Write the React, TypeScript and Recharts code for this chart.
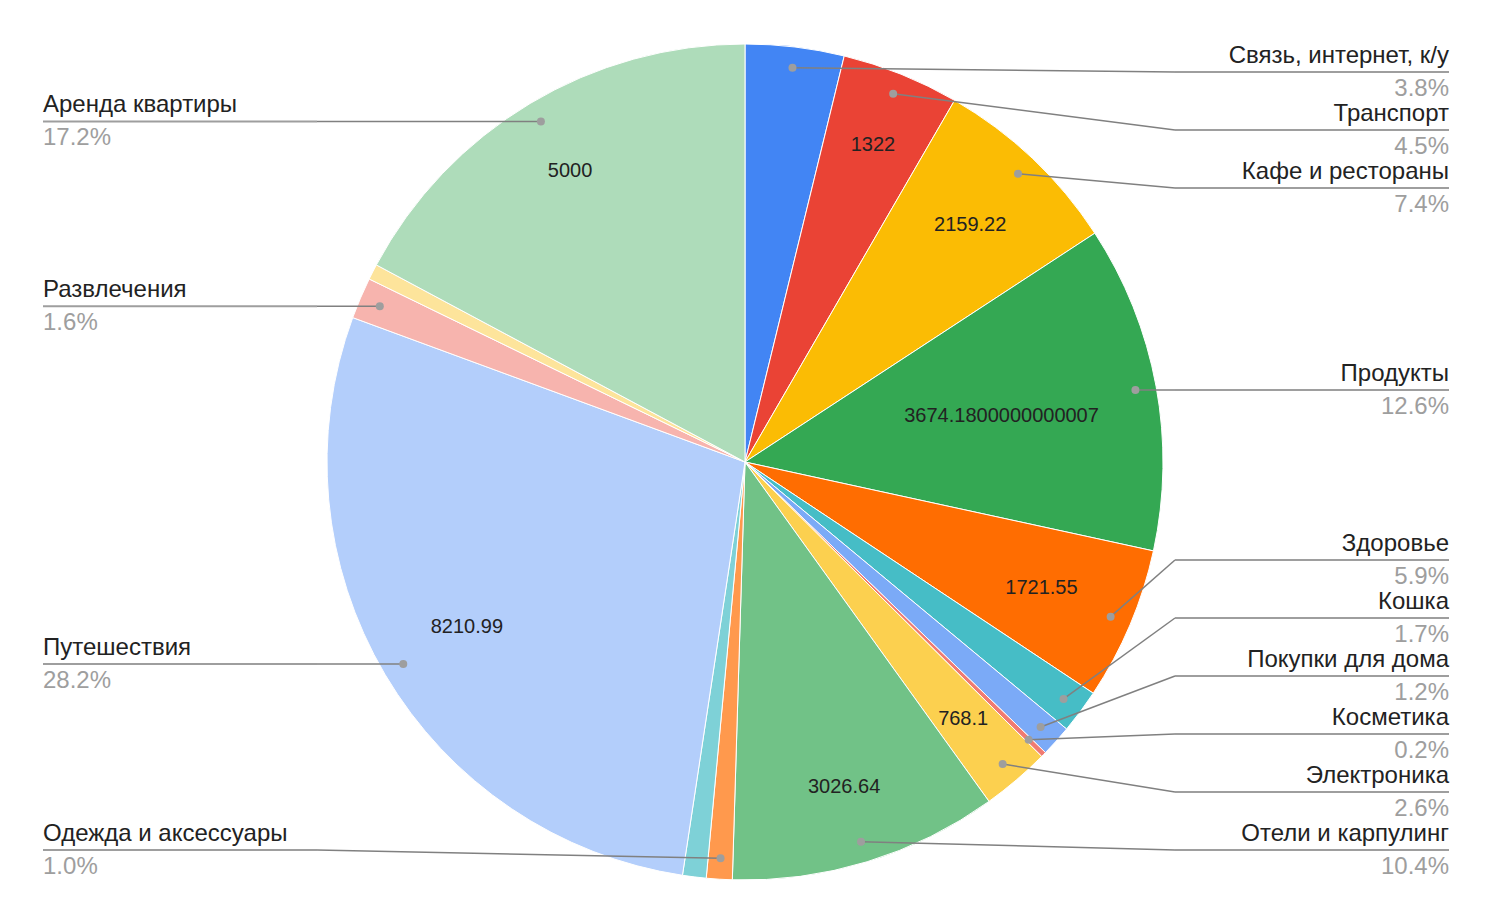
import { PieChart, Pie, Cell } from 'recharts'

// slices clockwise from 12 o'clock
const categories = [
  'Связь, интернет, к/у', 'Транспорт', 'Кафе и рестораны', 'Продукты', 'Здоровье',
  'Кошка', 'Покупки для дома', 'Косметика', 'Электроника', 'Отели и карпулинг',
  'Одежда и аксессуары', '', 'Путешествия', 'Развлечения', '', 'Аренда квартиры',
]
const amounts = [
  1110, 1322, 2159.22, 3674.18, 1721.55,
  495, 350, 60, 768.1, 3026.64,
  290, 265, 8210.99, 465, 175, 5000,
]
// text shown inside the slice ('' = none)
const sliceText = [
  '', '1322', '2159.22', '3674.1800000000007', '1721.55',
  '', '', '', '768.1', '3026.64',
  '', '', '8210.99', '', '', '5000',
]
const COLORS = [
  '#4285f4', '#ea4335', '#fbbc04', '#34a853', '#ff6d01', '#46bdc6', '#7baaf7', '#f07b72',
  '#fcd04f', '#71c287', '#ff994d', '#7ed1d7', '#b3cefb', '#f7b4ae', '#fde49b', '#aedcba',
]

const W = 1486
const H = 916
const CX = 745
const CY = 462
const R = 418
const DOT_R = 397
const TEXT_R = 358
const RIGHT_X = 1449
const LEFT_X = 43
const ELBOW = 274
const MIN_Y = 72
const MAX_Y = 850
const GAP = 58
const RAD = Math.PI / 180
const FONT = 'Arial, "Liberation Sans", sans-serif'

const data = categories.map((name, i) => ({ name, value: amounts[i] }))
const total = amounts.reduce((a, b) => a + b, 0)

// clockwise angle from top, degrees
const midAngles = (() => {
  let acc = 0
  return amounts.map(v => {
    const m = ((acc + v / 2) / total) * 360
    acc += v
    return m
  })
})()

// spread labels on one side so they don't overlap
const layoutSide = (idx: number[]) => {
  const items = idx
    .map(i => ({ i, ideal: CY - DOT_R * Math.cos(midAngles[i] * RAD) }))
    .sort((a, b) => a.ideal - b.ideal)
  const place = (g: any) => {
    const n = g.members.length
    const mean = g.members.reduce((s: number, m: any) => s + m.ideal, 0) / n
    g.top = Math.min(Math.max(mean - ((n - 1) * GAP) / 2, MIN_Y), MAX_Y - (n - 1) * GAP)
  }
  const groups: any[] = items.map(it => ({ members: [it], top: 0 }))
  groups.forEach(place)
  let merged = true
  while (merged) {
    merged = false
    for (let k = 0; k < groups.length - 1; k++) {
      const a = groups[k]
      const b = groups[k + 1]
      if (a.top + a.members.length * GAP > b.top) {
        const g = { members: [...a.members, ...b.members], top: 0 }
        place(g)
        groups.splice(k, 2, g)
        merged = true
        break
      }
    }
  }
  const out: Record<number, number> = {}
  groups.forEach(g => g.members.forEach((m: any, j: number) => { out[m.i] = g.top + j * GAP }))
  return out
}

const labelled = categories.map((n, i) => i).filter(i => categories[i])
const labelY: Record<number, number> = {
  ...layoutSide(labelled.filter(i => midAngles[i] < 180)),
  ...layoutSide(labelled.filter(i => midAngles[i] >= 180)),
}

const textWidth = (s: string, fs: number) =>
  s.split('').reduce((w, c) => w + (c === '.' ? 0.278 : 0.556) * fs, 0)

const renderLabel = (props: any) => {
  const { cx, cy, midAngle, index, percent } = props
  const ux = Math.cos(-midAngle * RAD)
  const uy = Math.sin(-midAngle * RAD)
  const inner = sliceText[index]
  const name = categories[index]

  let innerEl = null
  if (inner) {
    const a = textWidth(inner, 20) / 2
    const b = 7
    const B = a * Math.abs(ux) + b * Math.abs(uy)
    const C = a * a + b * b - TEXT_R * TEXT_R
    const d = -B + Math.sqrt(B * B - C)
    innerEl = (
      <text x={cx + d * ux} y={cy + d * uy + 7} textAnchor="middle" fontSize={20} fill="#222" fontFamily={FONT}>
        {inner}
      </text>
    )
  }

  let outerEl = null
  if (name) {
    const right = midAngles[index] < 180
    const ly = labelY[index]
    const dx = cx + DOT_R * ux
    const dy = cy + DOT_R * uy
    const edge = right ? RIGHT_X : LEFT_X
    const elbow = right ? RIGHT_X - ELBOW : LEFT_X + ELBOW
    outerEl = (
      <g>
        <path d={`M${dx},${dy}L${elbow},${ly}`} stroke="#808080" strokeWidth={1.5} fill="none" />
        <path d={`M${elbow},${ly}L${edge},${ly}`} stroke="#9e9e9e" strokeWidth={2} fill="none" />
        <circle cx={dx} cy={dy} r={4} fill="#9e9e9e" />
        <text x={edge} y={ly - 9} textAnchor={right ? 'end' : 'start'} fontSize={24} fill="#222" fontFamily={FONT}>
          {name}
        </text>
        <text x={edge} y={ly + 24} textAnchor={right ? 'end' : 'start'} fontSize={24} fill="#9e9e9e" fontFamily={FONT}>
          {(percent * 100).toFixed(1)}%
        </text>
      </g>
    )
  }

  return (
    <g key={`lbl-${index}`}>
      {innerEl}
      {outerEl}
    </g>
  )
}

export default function App() {
  return (
    <div style={{ position: 'absolute', left: 0, top: 0, width: W, height: H, background: '#fff' }}>
      <PieChart width={W} height={H} margin={{ top: 0, right: 0, bottom: 0, left: 0 }}>
        <Pie
          data={data}
          dataKey="value"
          nameKey="name"
          cx={CX}
          cy={CY}
          outerRadius={R}
          startAngle={90}
          endAngle={-270}
          stroke="#fff"
          strokeWidth={1}
          label={renderLabel}
          labelLine={false}
          isAnimationActive={false}
        >
          {data.map((_, i) => (
            <Cell key={`cell-${i}`} fill={COLORS[i]} />
          ))}
        </Pie>
      </PieChart>
    </div>
  )
}
